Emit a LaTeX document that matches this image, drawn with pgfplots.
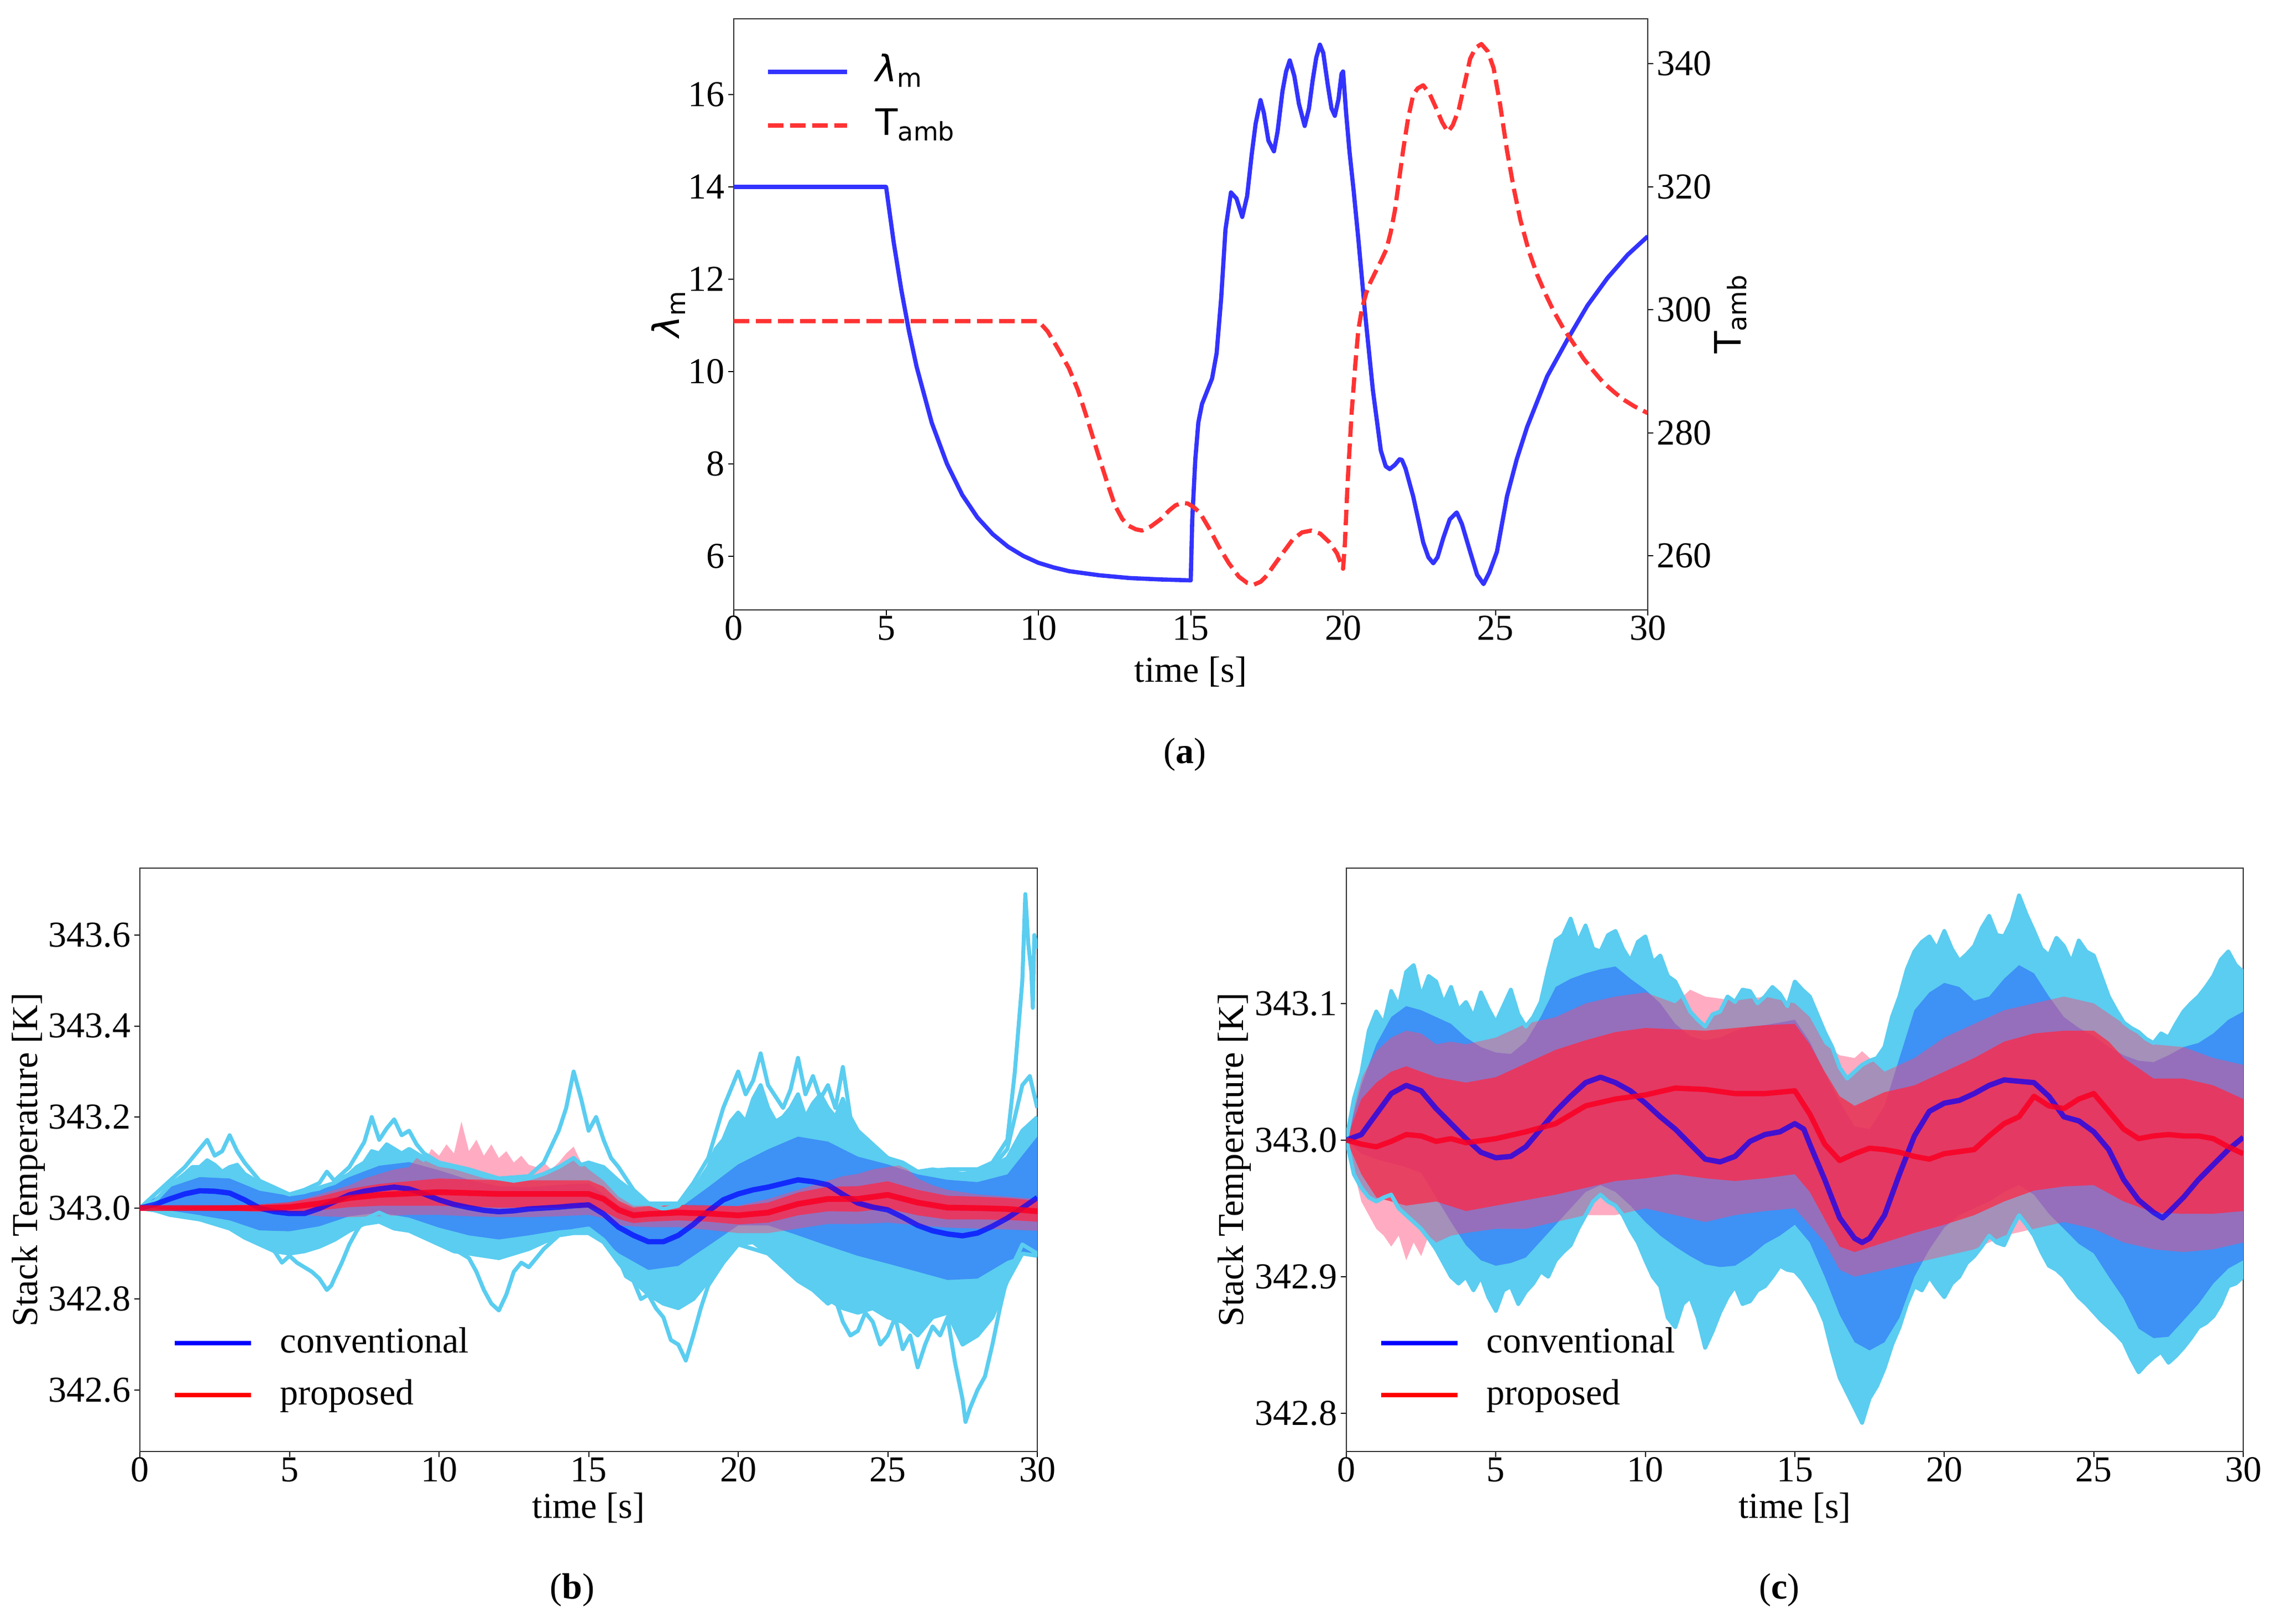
\documentclass[border=0pt]{standalone}
\usepackage{pgfplots}
\pgfplotsset{compat=1.18}
\usepgfplotslibrary{fillbetween}
\usepackage{fontspec}
\setmainfont{Liberation Serif}
\newfontfamily\dejavu{DejaVu Sans}
\definecolor{cyanT}{RGB}{90,205,240}
\definecolor{bandB}{RGB}{62,145,245}
\definecolor{envR}{RGB}{255,70,120}
\definecolor{bandR}{RGB}{255,40,70}
\definecolor{meanB}{RGB}{0,0,255}
\definecolor{meanR}{RGB}{250,0,35}
\definecolor{lamB}{RGB}{51,51,255}
\definecolor{tampR}{RGB}{255,51,51}
\newcommand\fs{\fontsize{16.5}{19.8}\selectfont}
\newcommand\sub[1]{\raisebox{-2.6pt}{\fontsize{11.5}{12}\selectfont #1}}
\pgfplotsset{
  base/.style={
    scale only axis,
    xmin=0, xmax=30,
    tick align=outside,
    major tick length=2.5pt,
    tick style={black, line width=0.5pt},
    axis line style={line width=0.5pt, black!80},
    every tick label/.append style={font=\fs, inner sep=1.5pt},
    xticklabel style={yshift=1.5pt},
    xtick={0,5,10,15,20,25,30},
    xticklabels={0,5,10,15,20,25,30},
    xtick pos=left,
    scaled ticks=false,
    every axis x label/.style={at={(axis description cs:0.5,-0.097)}, anchor=center, font=\fs},
    legend image code/.code={\draw[##1] (0pt,0pt) -- (34.5pt,0pt);},
    legend cell align=left,
    legend style={draw=none, fill=none, inner sep=0pt, outer sep=0pt, font=\fs,
      row sep=8pt, column sep=12pt, nodes={inner sep=0pt, text height=12pt, text depth=3.5pt}},
  },
  traj/.style={cyanT, line width=1.8pt, line join=round, forget plot},
}
\begin{document}
\begin{tikzpicture}
\path (0,0) rectangle (1027.25pt,-734pt);

% ---------------- (a) ----------------
\begin{axis}[base, at={(331.75pt,-275.75pt)}, anchor=south west,
  width=413.25pt, height=267.25pt,
  ymin=4.84, ymax=17.64, ytick={6,8,10,12,14,16}, yticklabels={6,8,10,12,14,16},
  ytick pos=left,
  xlabel={time [s]},
  every axis x label/.style={at={(axis description cs:0.5,-0.105)}, anchor=center, font=\fs},
  ylabel={\dejavu{\itshape λ}\sub{m}},
  every axis y label/.style={at={(axis description cs:-0.0714,0.5)}, rotate=90, anchor=center, font=\fs},
]
\addplot[lamB, line width=1.9pt, line join=round, forget plot] coordinates {
(0,14)(5,14)(5.25,12.80)(5.5,11.77)(5.75,10.88)(6,10.11)(6.5,8.89)(7,8.00)(7.5,7.33)(8,6.84)(8.5,6.48)(9,6.21)(9.5,6.01)(10,5.86)(10.5,5.76)(11,5.68)(12,5.59)(13,5.53)(14,5.50)(15,5.48)
(15.05,6.8)(15.15,8.1)(15.25,8.9)(15.37,9.3)(15.55,9.6)(15.7,9.85)(15.85,10.4)(16,11.6)(16.14,13.08)(16.32,13.88)(16.5,13.75)(16.69,13.35)(16.85,13.8)(17,14.7)(17.13,15.37)(17.29,15.88)(17.4,15.6)(17.55,15.0)(17.73,14.77)(17.85,15.2)(18.01,16.07)(18.13,16.5)(18.25,16.74)(18.4,16.4)(18.55,15.8)(18.74,15.32)(18.88,15.7)(19,16.3)(19.12,16.8)(19.24,17.08)(19.35,16.9)(19.5,16.2)(19.62,15.7)(19.73,15.54)(19.85,15.9)(19.95,16.45)(20,16.5)(20.1,15.6)(20.21,14.77)(20.35,13.9)(20.5,12.88)(20.72,11.28)(20.98,9.59)(21.24,8.29)(21.4,7.95)(21.53,7.89)(21.7,7.98)(21.85,8.1)(21.93,8.09)(22.05,7.9)(22.3,7.3)(22.5,6.7)(22.63,6.3)(22.8,5.98)(22.96,5.85)(23.1,5.98)(23.29,6.4)(23.5,6.8)(23.73,6.95)(23.9,6.7)(24.17,6.10)(24.4,5.6)(24.61,5.40)(24.8,5.65)(25.05,6.10)(25.38,7.3)(25.7,8.1)(26.04,8.8)(26.7,9.9)(27.36,10.69)(28.02,11.43)(28.68,12.03)(29.34,12.53)(30,12.93)};
\end{axis}
\begin{axis}[base, at={(331.75pt,-275.75pt)}, anchor=south west,
  width=413.25pt, height=267.25pt,
  axis x line=none, axis y line*=right,
  ymin=251.2, ymax=347.3, ytick={260,280,300,320,340}, yticklabels={260,280,300,320,340},
  ytick pos=right,
  ylabel={\dejavu T\sub{amb}},
  every axis y label/.style={at={(axis description cs:1.0907,0.5)}, rotate=90, anchor=center, font=\fs},
  legend image code/.code={\draw[#1] (0pt,0pt) -- (35.75pt,0pt);},
  legend style={at={(axis description cs:0.0351,0.9392)}, anchor=north west, row sep=8.75pt, column sep=12pt},
]
\addlegendimage{lamB, line width=1.9pt}
\addlegendentry{\dejavu{\itshape λ}\sub{m}}
\addplot[tampR, line width=1.9pt, dash pattern=on 7pt off 3pt, line join=round] coordinates {
(0,298.15)(10,298.15)(10.3,296.5)(10.64,293.7)(11,290.5)(11.3,286.9)(11.6,282.3)(11.96,276.5)(12.25,272.0)(12.51,268.2)(12.75,266.0)(12.95,264.9)(13.2,264.3)(13.4,264.1)(13.7,264.8)(14,265.9)(14.3,267.4)(14.5,268.2)(14.71,268.6)(14.9,268.5)(15.1,267.9)(15.3,267.0)(15.6,264.5)(15.92,261.5)(16.25,258.8)(16.58,256.6)(16.85,255.6)(17.07,255.3)(17.3,255.8)(17.5,256.8)(17.68,258.1)(18,260.3)(18.34,262.6)(18.65,263.8)(18.96,264.1)(19.25,263.6)(19.55,262.2)(19.8,260.4)(19.95,258.5)(20,257.9)(20.06,262.0)(20.15,272.0)(20.28,283.2)(20.4,291.0)(20.5,296.7)(20.62,300.2)(20.76,302.7)(20.9,304.5)(21.09,306.4)(21.25,308.0)(21.42,309.8)(21.56,312.5)(21.7,316.1)(21.83,320.8)(21.97,325.9)(22.13,331.0)(22.3,334.9)(22.45,336.0)(22.63,336.5)(22.85,335.0)(23.07,332.6)(23.25,330.5)(23.44,328.9)(23.6,330.0)(23.8,332.6)(24,337.0)(24.17,340.8)(24.35,342.6)(24.54,343.2)(24.75,342.0)(24.94,339.3)(25.15,333.5)(25.38,325.9)(25.6,319.8)(25.82,314.6)(26.1,309.5)(26.37,305.7)(26.65,302.5)(26.92,299.7)(27.25,296.8)(27.58,294.4)(27.9,292.0)(28.24,289.9)(28.55,288.1)(28.9,286.6)(29.2,285.4)(29.56,284.3)(30,283.2)};
\addlegendentry{\dejavu T\sub{amb}}
\end{axis}
\node[font=\fs] at (535.75pt,-341.25pt) {(\textbf{a})};

% ---------------- (b) ----------------
\begin{axis}[base, at={(63.25pt,-656.25pt)}, anchor=south west,
  width=405.75pt, height=263.75pt,
  ymin=342.465, ymax=343.747,
  ytick={342.6,342.8,343.0,343.2,343.4,343.6}, yticklabels={342.6,342.8,343.0,343.2,343.4,343.6},
  ytick pos=left,
  xlabel={time [s]}, ylabel={Stack Temperature [K]},
  every axis y label/.style={at={(axis description cs:-0.124,0.5)}, rotate=90, anchor=center, font=\fs},
  legend style={at={(axis description cs:0.0364,0.2152)}, anchor=north west},
]
\addplot[traj, name path=bcu] coordinates {
(0,343.000)(0.5,343.015)(1,343.05)(1.5,343.075)(1.75,343.09)(2,343.09)(2.25,343.105)(2.5,343.095)(2.75,343.08)(3,343.09)(3.25,343.095)(3.5,343.075)(4,343.055)(4.5,343.04)(5,343.03)(5.5,343.035)(6,343.045)(6.5,343.055)(7,343.075)(7.25,343.09)(7.5,343.10)(7.75,343.125)(8,343.12)(8.25,343.14)(8.5,343.13)(8.75,343.12)(9,343.13)(9.5,343.11)(10,343.095)(10.5,343.09)(11,343.08)(11.5,343.07)(12,343.065)(12.5,343.06)(13,343.065)(13.5,343.075)(14,343.09)(14.25,343.1)(14.5,343.11)(14.75,343.095)(15,343.10)(15.5,343.09)(16,343.06)(16.5,343.035)(17,343.01)(17.5,342.998)(18,343.005)(18.5,343.04)(19,343.09)(19.25,343.13)(19.5,343.15)(19.75,343.19)(20,343.21)(20.25,343.19)(20.5,343.24)(20.75,343.27)(21,343.22)(21.25,343.19)(21.5,343.2)(21.75,343.22)(22,343.25)(22.25,343.2)(22.5,343.23)(22.75,343.25)(23,343.22)(23.25,343.2)(23.5,343.24)(23.75,343.19)(24,343.16)(24.5,343.13)(25,343.11)(25.5,343.10)(26,343.08)(26.5,343.085)(27,343.08)(27.5,343.075)(28,343.08)(28.5,343.09)(29,343.11)(29.5,343.17)(30,343.2)};
\addplot[traj, name path=bcl] coordinates {
(0,343.0)(0.5,342.995)(1,342.985)(1.5,342.98)(2,342.975)(2.5,342.965)(3,342.955)(3.5,342.935)(4,342.92)(4.5,342.905)(5,342.9)(5.5,342.905)(6,342.915)(6.5,342.93)(7,342.95)(7.5,342.965)(8,342.97)(8.5,342.955)(9,342.95)(9.5,342.935)(10,342.92)(10.5,342.905)(11,342.9)(11.5,342.895)(12,342.89)(12.5,342.9)(13,342.91)(13.5,342.925)(14,342.94)(14.5,342.945)(15,342.945)(15.5,342.925)(16,342.88)(16.5,342.84)(17,342.81)(17.5,342.79)(18,342.78)(18.5,342.8)(19,342.84)(19.5,342.885)(20,342.92)(20.5,342.925)(21,342.9)(21.5,342.87)(22,342.85)(22.5,342.83)(23,342.8)(23.5,342.78)(24,342.77)(24.5,342.78)(25,342.76)(25.5,342.75)(26,342.72)(26.5,342.76)(27,342.77)(27.5,342.70)(28,342.72)(28.5,342.76)(29,342.84)(29.5,342.9)(30,342.895)};
\addplot[cyanT, forget plot] fill between[of=bcu and bcl];
\addplot[traj] coordinates {
(0,343.0)(1,343.06)(1.5,343.09)(2,343.13)(2.25,343.15)(2.5,343.115)(2.75,343.125)(3,343.16)(3.25,343.125)(3.5,343.1)(4,343.06)(5,343.03)(5.5,343.04)(6,343.055)(6.25,343.08)(6.5,343.06)(6.75,343.075)(7,343.09)(7.5,343.145)(7.75,343.2)(8,343.15)(8.25,343.175)(8.5,343.195)(8.75,343.16)(9,343.17)(9.25,343.14)(9.5,343.12)(10,343.10)(11,343.085)(12,343.065)(13,343.07)(13.5,343.1)(14,343.17)(14.25,343.22)(14.5,343.30)(14.75,343.24)(15,343.17)(15.25,343.2)(15.5,343.15)(15.75,343.11)(16,343.09)(16.5,343.04)(17,343.01)(18,343.01)(18.5,343.055)(19,343.11)(19.5,343.22)(19.75,343.26)(20,343.30)(20.25,343.25)(20.5,343.28)(20.75,343.34)(21,343.27)(21.5,343.22)(21.75,343.26)(22,343.33)(22.25,343.25)(22.5,343.29)(22.75,343.24)(23,343.27)(23.25,343.22)(23.5,343.31)(23.75,343.2)(24,343.17)(24.5,343.14)(25,343.11)(26,343.08)(27,343.085)(28,343.085)(28.5,343.1)(29,343.15)(29.25,343.3)(29.5,343.5)(29.6,343.69)(29.7,343.58)(29.8,343.52)(29.85,343.44)(29.9,343.6)(30,343.57)};
\addplot[traj] coordinates {(28.5,343.09)(29,343.13)(29.25,343.2)(29.5,343.27)(29.75,343.29)(30,343.22)};
\addplot[traj] coordinates {
(0,343.0)(1,342.99)(2,342.98)(3,342.96)(3.5,342.945)(4,342.93)(4.5,342.905)(4.75,342.88)(5,342.895)(5.25,342.88)(5.5,342.87)(5.75,342.86)(6,342.845)(6.25,342.82)(6.4,342.83)(6.5,342.845)(6.75,342.88)(7,342.92)(7.25,342.95)(7.5,342.975)(8,342.99)(8.5,342.975)(9,342.96)(9.5,342.95)(10,342.93)(10.5,342.91)(11,342.89)(11.25,342.86)(11.5,342.82)(11.75,342.79)(12,342.775)(12.25,342.81)(12.5,342.86)(12.75,342.88)(13,342.87)(13.5,342.91)(14,342.94)(14.5,342.95)(15,342.955)(15.5,342.93)(16,342.89)(16.25,342.85)(16.5,342.84)(16.75,342.8)(17,342.81)(17.25,342.78)(17.5,342.76)(17.75,342.71)(18,342.70)(18.25,342.665)(18.5,342.72)(18.75,342.78)(19,342.83)(19.5,342.88)(20,342.92)(20.5,342.91)(21,342.9)(21.5,342.87)(22,342.84)(22.5,342.82)(23,342.79)(23.25,342.80)(23.5,342.75)(23.75,342.72)(24,342.73)(24.25,342.77)(24.5,342.75)(24.75,342.70)(25,342.72)(25.25,342.76)(25.5,342.69)(25.75,342.72)(26,342.65)(26.25,342.70)(26.5,342.74)(26.75,342.72)(27,342.76)(27.25,342.66)(27.5,342.58)(27.6,342.53)(27.75,342.56)(28,342.60)(28.25,342.63)(28.5,342.70)(28.75,342.78)(29,342.85)(29.5,342.92)(30,342.9)};
\addplot[draw=none, name path=bbu, forget plot] coordinates {
(0,343.0)(1,343.046)(2,343.068)(3,343.065)(4,343.038)(5,343.027)(6,343.038)(7,343.068)(8,343.093)(9,343.101)(10,343.083)(11,343.062)(12,343.048)(13,343.046)(14,343.051)(15,343.054)(16,343.007)(17,342.987)(18,342.998)(19,343.046)(20,343.096)(21,343.129)(22,343.157)(23,343.146)(24,343.113)(25,343.096)(26,343.074)(27,343.062)(28,343.057)(29,343.074)(30,343.157)};
\addplot[draw=none, name path=bbl, forget plot] coordinates {
(0,343.0)(1,342.993)(2,342.984)(3,342.973)(4,342.951)(5,342.949)(6,342.96)(7,342.982)(8,342.99)(9,342.979)(10,342.957)(11,342.94)(12,342.931)(13,342.94)(14,342.951)(15,342.957)(16,342.901)(17,342.864)(18,342.873)(19,342.917)(20,342.962)(21,342.962)(22,342.94)(23,342.917)(24,342.895)(25,342.878)(26,342.86)(27,342.842)(28,342.845)(29,342.884)(30,342.906)};
\addplot[bandB, forget plot] fill between[of=bbu and bbl];
\addplot[draw=none, name path=bpu, forget plot] coordinates {
(0,343.0)(4,343.002)(5,343.01)(6,343.03)(7,343.05)(7.5,343.065)(8,343.075)(8.5,343.085)(9,343.09)(9.25,343.11)(9.5,343.1)(9.75,343.13)(10,343.115)(10.25,343.14)(10.5,343.12)(10.75,343.19)(11,343.125)(11.25,343.15)(11.5,343.115)(11.75,343.14)(12,343.11)(12.25,343.125)(12.5,343.1)(12.75,343.115)(13,343.095)(13.25,343.09)(13.5,343.1)(13.75,343.085)(14,343.1)(14.25,343.12)(14.5,343.135)(14.75,343.1)(15,343.085)(15.5,343.06)(16,343.025)(16.5,343.005)(17,343.005)(18,343.005)(19,343.002)(20,343.005)(21,343.02)(22,343.04)(23,343.06)(23.5,343.07)(24,343.075)(24.5,343.085)(25,343.09)(25.5,343.095)(26,343.065)(26.5,343.05)(27,343.04)(28,343.03)(29,343.025)(30,343.02)};
\addplot[draw=none, name path=bpl, forget plot] coordinates {
(0,343.0)(4,342.995)(5,342.988)(6,342.982)(7,342.98)(8,342.982)(9,342.985)(10,342.985)(11,342.982)(12,342.98)(13,342.98)(14,342.982)(15,342.985)(15.5,342.978)(16,342.962)(17,342.958)(18,342.958)(19,342.952)(20,342.945)(21,342.945)(22,342.955)(23,342.965)(24,342.965)(25,342.968)(26,342.962)(27,342.957)(28,342.955)(29,342.953)(30,342.95)};
\addplot[envR, fill opacity=0.45, forget plot] fill between[of=bpu and bpl];
\addplot[draw=none, name path=bru, forget plot] coordinates {
(0,343.0)(1,343.002)(2,343.004)(3,343.006)(4,343.008)(5,343.013)(6,343.025)(7,343.042)(8,343.053)(9,343.059)(10,343.065)(11,343.063)(12,343.061)(13,343.061)(14,343.061)(15,343.061)(15.5,343.047)(16,343.016)(16.5,343.001)(17,343.004)(18,343.007)(19,343.006)(20,343.004)(21,343.012)(22,343.034)(23,343.047)(24,343.048)(25,343.059)(26,343.04)(27,343.027)(28,343.025)(29,343.022)(30,343.016)};
\addplot[draw=none, name path=brl, forget plot] coordinates {
(0,343.0)(1,342.998)(2,342.996)(3,342.994)(4,342.992)(5,342.991)(6,342.995)(7,343.002)(8,343.005)(9,343.005)(10,343.005)(11,343.003)(12,343.001)(13,343.001)(14,343.001)(15,343.001)(15.5,342.993)(16,342.976)(16.5,342.967)(17,342.97)(18,342.973)(19,342.97)(20,342.964)(21,342.968)(22,342.984)(23,342.993)(24,342.992)(25,342.999)(26,342.984)(27,342.975)(28,342.975)(29,342.974)(30,342.97)};
\addplot[bandR, fill opacity=0.75, forget plot] fill between[of=bru and brl];
\addplot[meanB, opacity=0.7, line width=2.4pt, line join=round, forget plot] coordinates {
(0,343.0)(0.5,343.008)(1,343.02)(1.5,343.031)(2,343.038)(2.5,343.037)(3,343.033)(3.5,343.018)(4,343.0)(4.5,342.992)(5,342.988)(5.5,342.988)(6,342.999)(6.5,343.014)(7,343.029)(7.5,343.037)(8,343.042)(8.5,343.046)(9,343.042)(9.5,343.031)(10,343.018)(10.5,343.008)(11,343.001)(11.5,342.995)(12,342.992)(12.5,342.994)(13,342.998)(13.5,343.0)(14,343.002)(14.5,343.005)(15,343.007)(15.5,342.987)(16,342.958)(16.5,342.94)(17,342.926)(17.5,342.926)(18,342.94)(18.5,342.964)(19,342.993)(19.5,343.018)(20,343.031)(20.5,343.04)(21,343.046)(21.5,343.054)(22,343.062)(22.5,343.058)(23,343.051)(23.5,343.03)(24,343.011)(24.5,343.002)(25,342.996)(25.5,342.98)(26,342.962)(26.5,342.95)(27,342.943)(27.5,342.939)(28,342.945)(28.5,342.96)(29,342.978)(29.5,343.0)(30,343.023)};
\addplot[meanR, opacity=0.85, line width=2.6pt, line join=round, forget plot] coordinates {
(0,343.0)(4,343.0)(5,343.002)(6,343.01)(7,343.022)(8,343.029)(9,343.032)(10,343.035)(11,343.033)(12,343.031)(13,343.031)(14,343.031)(15,343.031)(15.5,343.02)(16,342.996)(16.5,342.984)(17,342.987)(18,342.99)(19,342.988)(20,342.984)(21,342.99)(22,343.009)(23,343.02)(24,343.02)(25,343.029)(26,343.012)(27,343.001)(28,343.0)(29,342.998)(30,342.993)};
\addlegendimage{meanB, line width=2.2pt}
\addlegendentry{conventional}
\addlegendimage{red, line width=2.2pt}
\addlegendentry{proposed}
\end{axis}
\node[font=\fs] at (258.75pt,-719pt) {(\textbf{b})};

% ---------------- (c) ----------------
\begin{axis}[base, at={(608.75pt,-656.25pt)}, anchor=south west,
  width=405.5pt, height=263.75pt,
  ymin=342.772, ymax=343.199,
  ytick={342.8,342.9,343.0,343.1}, yticklabels={342.8,342.9,343.0,343.1},
  ytick pos=left,
  xlabel={time [s]}, ylabel={Stack Temperature [K]},
  every axis y label/.style={at={(axis description cs:-0.1245,0.5)}, rotate=90, anchor=center, font=\fs},
  legend style={at={(axis description cs:0.0364,0.2152)}, anchor=north west},
]
\addplot[traj, name path=ccu] coordinates {
(0,343.0)(0.25,343.03)(0.5,343.049)(0.75,343.08)(1,343.094)(1.25,343.085)(1.5,343.109)(1.75,343.098)(2,343.123)(2.25,343.128)(2.5,343.105)(2.75,343.12)(3,343.116)(3.25,343.1)(3.5,343.112)(3.75,343.095)(4,343.101)(4.25,343.09)(4.5,343.108)(4.75,343.096)(5,343.086)(5.25,343.098)(5.5,343.11)(5.75,343.092)(6,343.083)(6.25,343.09)(6.5,343.101)(6.75,343.125)(7,343.146)(7.25,343.15)(7.5,343.162)(7.75,343.145)(8,343.157)(8.25,343.14)(8.5,343.138)(8.75,343.15)(9,343.153)(9.25,343.14)(9.5,343.131)(9.75,343.145)(10,343.149)(10.25,343.13)(10.5,343.135)(10.75,343.12)(11,343.116)(11.25,343.105)(11.5,343.094)(11.75,343.088)(12,343.083)(12.25,343.092)(12.5,343.094)(12.75,343.105)(13,343.101)(13.25,343.11)(13.5,343.109)(13.75,343.1)(14,343.105)(14.25,343.112)(14.5,343.107)(14.75,343.098)(15,343.116)(15.25,343.11)(15.5,343.105)(15.75,343.092)(16,343.079)(16.25,343.068)(16.5,343.053)(16.75,343.045)(17,343.05)(17.25,343.055)(17.5,343.058)(17.75,343.06)(18,343.068)(18.25,343.09)(18.5,343.105)(18.75,343.125)(19,343.138)(19.25,343.145)(19.5,343.149)(19.75,343.14)(20,343.153)(20.25,343.14)(20.5,343.131)(20.75,343.136)(21,343.142)(21.25,343.155)(21.5,343.164)(21.75,343.15)(22,343.149)(22.25,343.16)(22.5,343.179)(22.75,343.165)(23,343.153)(23.25,343.14)(23.5,343.135)(23.75,343.148)(24,343.142)(24.25,343.13)(24.5,343.146)(24.75,343.138)(25,343.135)(25.25,343.12)(25.5,343.105)(25.75,343.095)(26,343.086)(26.25,343.082)(26.5,343.079)(26.75,343.074)(27,343.071)(27.25,343.078)(27.5,343.075)(27.75,343.085)(28,343.094)(28.25,343.1)(28.5,343.105)(28.75,343.112)(29,343.12)(29.25,343.132)(29.5,343.138)(29.75,343.128)(30,343.123)};
\addplot[traj, name path=ccl] coordinates {
(0,343.0)(0.25,342.975)(0.5,342.965)(0.75,342.958)(1,342.955)(1.25,342.958)(1.5,342.96)(1.75,342.95)(2,342.945)(2.25,342.94)(2.5,342.935)(2.75,342.928)(3,342.92)(3.25,342.91)(3.5,342.9)(3.75,342.895)(4,342.9)(4.25,342.89)(4.5,342.9)(4.75,342.885)(5,342.875)(5.25,342.89)(5.5,342.893)(5.75,342.88)(6,342.889)(6.25,342.895)(6.5,342.904)(6.75,342.9)(7,342.912)(7.25,342.918)(7.5,342.923)(7.75,342.935)(8,342.945)(8.25,342.955)(8.5,342.96)(8.75,342.955)(9,342.952)(9.25,342.945)(9.5,342.934)(9.75,342.925)(10,342.912)(10.25,342.9)(10.5,342.893)(10.75,342.87)(11,342.863)(11.25,342.88)(11.5,342.885)(11.75,342.87)(12,342.848)(12.25,342.86)(12.5,342.874)(12.75,342.885)(13,342.893)(13.25,342.88)(13.5,342.882)(13.75,342.89)(14,342.893)(14.25,342.9)(14.5,342.908)(14.75,342.905)(15,342.904)(15.25,342.898)(15.5,342.889)(15.75,342.88)(16,342.867)(16.25,342.845)(16.5,342.826)(16.75,342.815)(17,342.804)(17.25,342.793)(17.5,342.811)(17.75,342.82)(18,342.833)(18.25,342.85)(18.5,342.863)(18.75,342.88)(19,342.893)(19.25,342.89)(19.5,342.9)(19.75,342.892)(20,342.885)(20.25,342.895)(20.5,342.9)(20.75,342.91)(21,342.915)(21.25,342.922)(21.5,342.93)(21.75,342.925)(22,342.923)(22.25,342.935)(22.5,342.945)(22.75,342.938)(23,342.93)(23.25,342.918)(23.5,342.908)(23.75,342.905)(24,342.9)(24.25,342.892)(24.5,342.885)(24.75,342.88)(25,342.874)(25.25,342.868)(25.5,342.863)(25.75,342.858)(26,342.852)(26.25,342.84)(26.5,342.83)(26.75,342.836)(27,342.841)(27.25,342.845)(27.5,342.837)(27.75,342.842)(28,342.848)(28.25,342.855)(28.5,342.863)(28.75,342.866)(29,342.871)(29.25,342.88)(29.5,342.893)(29.75,342.895)(30,342.9)};
\addplot[cyanT, forget plot] fill between[of=ccu and ccl];
\addplot[draw=none, name path=cbu, forget plot] coordinates {
(0,343.0)(0.5,343.04)(1,343.07)(1.5,343.09)(2,343.098)(2.5,343.095)(3,343.09)(3.5,343.085)(4,343.075)(4.5,343.068)(5,343.064)(5.5,343.063)(6,343.072)(6.5,343.09)(7,343.112)(7.5,343.118)(8,343.122)(8.5,343.125)(9,343.127)(9.5,343.118)(10,343.11)(10.5,343.1)(11,343.085)(11.5,343.076)(12,343.073)(12.5,343.075)(13,343.08)(13.5,343.083)(14,343.084)(14.5,343.086)(15,343.088)(15.5,343.072)(16,343.049)(16.5,343.028)(17,343.01)(17.5,343.008)(18,343.025)(18.5,343.06)(19,343.095)(19.5,343.108)(20,343.115)(20.5,343.112)(21,343.102)(21.5,343.105)(22,343.118)(22.5,343.128)(23,343.122)(23.5,343.105)(24,343.09)(24.5,343.082)(25,343.076)(25.5,343.068)(26,343.062)(26.5,343.058)(27,343.057)(27.5,343.062)(28,343.068)(28.5,343.071)(29,343.078)(29.5,343.088)(30,343.094)};
\addplot[draw=none, name path=cbl, forget plot] coordinates {
(0,343.0)(0.5,342.99)(1,342.986)(1.5,342.983)(2,342.98)(2.5,342.976)(3,342.958)(3.5,342.94)(4,342.923)(4.5,342.912)(5,342.908)(5.5,342.91)(6,342.914)(6.5,342.926)(7,342.938)(7.5,342.95)(8,342.962)(8.5,342.967)(9,342.962)(9.5,342.952)(10,342.94)(10.5,342.93)(11,342.922)(11.5,342.915)(12,342.909)(12.5,342.907)(13,342.908)(13.5,342.915)(14,342.924)(14.5,342.93)(15,342.938)(15.5,342.925)(16,342.9)(16.5,342.872)(17,342.852)(17.5,342.846)(18,342.852)(18.5,342.87)(19,342.9)(19.5,342.92)(20,342.936)(20.5,342.945)(21,342.95)(21.5,342.955)(22,342.962)(22.5,342.967)(23,342.96)(23.5,342.946)(24,342.935)(24.5,342.924)(25,342.917)(25.5,342.9)(26,342.884)(26.5,342.862)(27,342.855)(27.5,342.856)(28,342.868)(28.5,342.88)(29,342.895)(29.5,342.906)(30,342.912)};
\addplot[bandB, forget plot] fill between[of=cbu and cbl];
\addplot[draw=none, name path=cpu, forget plot] coordinates {
(0,343.0)(0.5,343.045)(1,343.065)(1.5,343.075)(2,343.08)(2.5,343.078)(3,343.07)(3.5,343.072)(4,343.07)(5,343.075)(6,343.085)(7,343.09)(8,343.1)(9,343.105)(10,343.108)(11,343.1)(11.5,343.11)(12,343.105)(13,343.102)(14,343.105)(15,343.1)(15.5,343.09)(16,343.07)(16.5,343.062)(17,343.06)(17.25,343.065)(17.5,343.06)(18,343.05)(19,343.06)(20,343.075)(21,343.085)(22,343.095)(23,343.1)(24,343.105)(25,343.1)(26,343.085)(27,343.07)(28,343.068)(29,343.06)(30,343.055)};
\addplot[draw=none, name path=cpl, forget plot] coordinates {
(0,343.0)(0.5,342.955)(1,342.935)(1.25,342.93)(1.5,342.922)(1.75,342.93)(2,342.912)(2.25,342.925)(2.5,342.915)(2.75,342.93)(3,342.925)(3.5,342.93)(4,342.932)(5,342.935)(6,342.935)(7,342.94)(8,342.945)(9,342.945)(10,342.95)(11,342.945)(12,342.94)(13,342.945)(14,342.948)(15,342.95)(16,342.925)(16.5,342.905)(17,342.9)(18,342.905)(19,342.91)(20,342.915)(21,342.92)(22,342.93)(23,342.935)(24,342.94)(25,342.935)(26,342.925)(27,342.92)(28,342.918)(29,342.92)(30,342.925)};
\addplot[envR, fill opacity=0.45, forget plot] fill between[of=cpu and cpl];
\addplot[draw=none, name path=cru, forget plot] coordinates {
(0,343.0)(0.5,343.03)(1,343.042)(1.5,343.05)(2,343.054)(2.5,343.05)(3,343.046)(4,343.042)(5,343.046)(6,343.056)(7,343.066)(8,343.073)(9,343.079)(10,343.082)(11,343.081)(12,343.08)(13,343.082)(14,343.084)(15,343.085)(15.5,343.07)(16,343.05)(16.5,343.032)(17,343.025)(17.5,343.03)(18,343.035)(19,343.04)(20,343.05)(21,343.06)(22,343.072)(23,343.078)(24,343.08)(25,343.08)(25.5,343.072)(26,343.06)(27,343.045)(28,343.045)(29,343.04)(30,343.03)};
\addplot[draw=none, name path=crl, forget plot] coordinates {
(0,343.0)(0.5,342.975)(1,342.958)(2,342.952)(3,342.955)(4,342.948)(5,342.952)(6,342.956)(7,342.96)(8,342.965)(9,342.97)(10,342.972)(11,342.975)(12,342.972)(13,342.97)(14,342.972)(15,342.975)(15.5,342.962)(16,342.942)(16.5,342.922)(17,342.918)(18,342.925)(19,342.932)(20,342.938)(21,342.945)(22,342.955)(23,342.963)(24,342.966)(25,342.967)(26,342.955)(27,342.947)(28,342.946)(29,342.946)(30,342.948)};
\addplot[bandR, fill opacity=0.75, forget plot] fill between[of=cru and crl];
\addplot[meanB, opacity=0.7, line width=2.4pt, line join=round, forget plot] coordinates {
(0,343.0)(0.5,343.004)(1,343.019)(1.5,343.034)(2,343.04)(2.5,343.036)(3,343.023)(3.5,343.012)(4,343.001)(4.5,342.991)(5,342.987)(5.5,342.988)(6,342.995)(6.5,343.008)(7,343.021)(7.5,343.032)(8,343.042)(8.5,343.046)(9,343.042)(9.5,343.036)(10,343.027)(10.5,343.017)(11,343.008)(11.5,342.997)(12,342.986)(12.5,342.984)(13,342.988)(13.5,342.999)(14,343.004)(14.5,343.006)(15,343.012)(15.3,343.008)(15.5,342.997)(16,342.971)(16.5,342.943)(17,342.928)(17.25,342.925)(17.5,342.928)(18,342.945)(18.5,342.975)(19,343.003)(19.5,343.021)(20,343.027)(20.5,343.029)(21,343.034)(21.5,343.04)(22,343.044)(22.5,343.043)(23,343.042)(23.5,343.032)(24,343.017)(24.5,343.014)(25,343.006)(25.5,342.993)(26,342.971)(26.5,342.956)(27,342.947)(27.3,342.943)(27.5,342.947)(28,342.958)(28.5,342.971)(29,342.982)(29.5,342.993)(30,343.002)};
\addplot[meanR, opacity=0.85, line width=2.4pt, line join=round, forget plot] coordinates {
(0,343.0)(0.5,342.997)(1,342.995)(1.5,342.999)(2,343.004)(2.5,343.003)(3,342.999)(3.5,343.001)(4,342.998)(5,343.001)(6,343.006)(7,343.012)(8,343.025)(9,343.03)(10,343.033)(11,343.038)(12,343.037)(13,343.034)(14,343.034)(15,343.036)(15.5,343.019)(16,342.997)(16.5,342.985)(17,342.99)(17.5,342.994)(18,342.993)(18.5,342.991)(19,342.988)(19.5,342.986)(20,342.99)(21,342.993)(21.5,343.003)(22,343.012)(22.5,343.017)(23,343.032)(23.5,343.025)(24,343.023)(24.5,343.03)(25,343.034)(25.5,343.021)(26,343.008)(26.5,343.001)(27,343.003)(27.5,343.004)(28,343.003)(28.5,343.003)(29,343.001)(29.5,342.995)(30,342.99)};
\addlegendimage{meanB, line width=2.2pt}
\addlegendentry{conventional}
\addlegendimage{red, line width=2.2pt}
\addlegendentry{proposed}
\end{axis}
\node[font=\fs] at (804.5pt,-719pt) {(\textbf{c})};
\pgfresetboundingbox
\path[use as bounding box] (0,0) rectangle (1027.25pt,-734pt);
\end{tikzpicture}
\end{document}
